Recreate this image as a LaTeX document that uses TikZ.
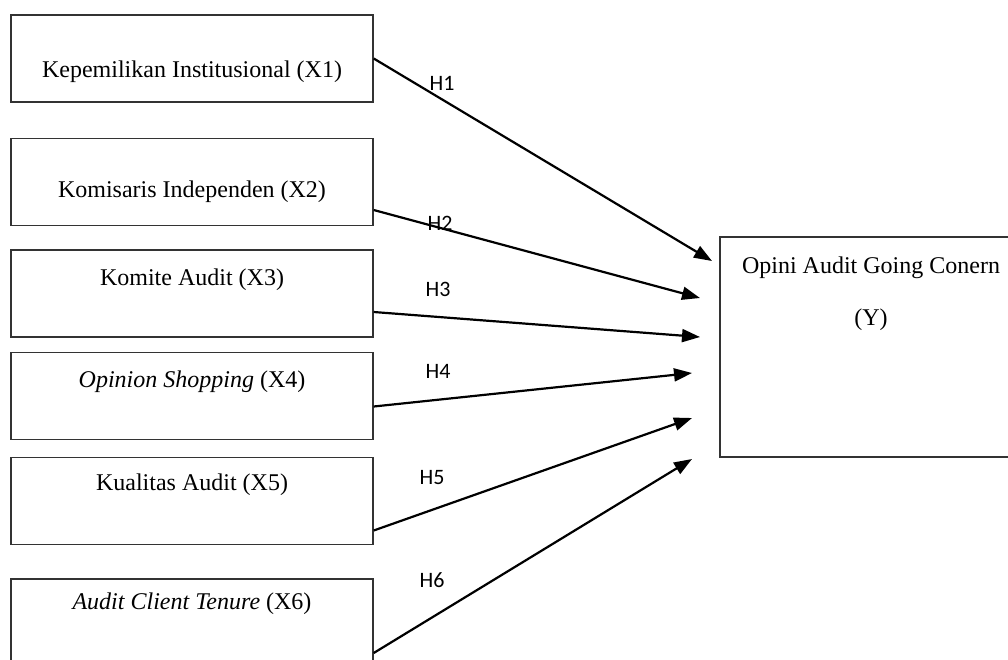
\documentclass[tikz,border=0pt]{standalone}
\usepackage{fontspec}
\setmainfont{Liberation Serif}
\newfontfamily\hfont{Carlito}
\usetikzlibrary{arrows.meta}
\begin{document}
\begin{tikzpicture}[x=1pt,y=-1pt,
  box/.style={draw=black!80,line width=1.4pt,minimum width=362pt,minimum height=87pt,inner sep=0pt},
  ybox/.style={draw=black!80,line width=1.4pt,minimum width=290pt,minimum height=220pt,inner sep=0pt},
  txt/.style={anchor=base,font=\fontsize{24}{28}\selectfont,inner sep=0pt},
  hl/.style={anchor=base,font=\hfont\fontsize{22}{26}\selectfont,inner sep=0pt},
  arr/.style={line width=2.2pt,-{Triangle[length=18pt,width=13pt]}}]
\useasboundingbox (0,0) rectangle (1008,659);
% boxes
\node[box] (b1) at (192,58.5) {};
\node[box] (b2) at (192,182) {};
\node[box] (b3) at (192,293.5) {};
\node[box] (b4) at (192,396) {};
\node[box] (b5) at (192,501) {};
\node[box] (b6) at (192,622.5) {};
\node[ybox] (y) at (865,347) {};
% texts
\node[txt] (t1) at (192,77) {Kepemilikan Institusional (X1)};
\node[txt] (t2) at (192,197) {Komisaris Independen (X2)};
\node[txt] (t3) at (192,285) {Komite Audit (X3)};
\node[txt] (t4) at (192,387) {\textit{Opinion Shopping} (X4)};
\node[txt] (t5) at (192,490) {Kualitas Audit (X5)};
\node[txt] (t6) at (192,609) {\textit{Audit Client Tenure} (X6)};
\node[txt] (ty1) at (871,273) {Opini Audit Going Conern};
\node[txt] (ty2) at (871,325) {(Y)};
% arrow ends
\coordinate (e1) at (712,261);
\coordinate (e2) at (700,298);
\coordinate (e3) at (700,337);
\coordinate (e4) at (692,373);
\coordinate (e5) at (692,418);
\coordinate (e6) at (692,459);
% arrows
\draw[arr] ([yshift=0pt]b1.east) -- (e1);
\draw[arr] ([yshift=-28pt]b2.east) -- (e2);
\draw[arr] ([yshift=-18.5pt]b3.east) -- (e3);
\draw[arr] ([yshift=-10.5pt]b4.east) -- (e4);
\draw[arr] ([yshift=-29.5pt]b5.east) -- (e5);
\draw[arr] ([yshift=-30.5pt]b6.east) -- (e6);
% labels
\node[hl] (h1) at (442,90) {H1};
\node[hl] (h2) at (440,230) {H2};
\node[hl] (h3) at (438,296) {H3};
\node[hl] (h4) at (438,378) {H4};
\node[hl] (h5) at (432,484) {H5};
\node[hl] (h6) at (432,587) {H6};
\end{tikzpicture}
\end{document}
